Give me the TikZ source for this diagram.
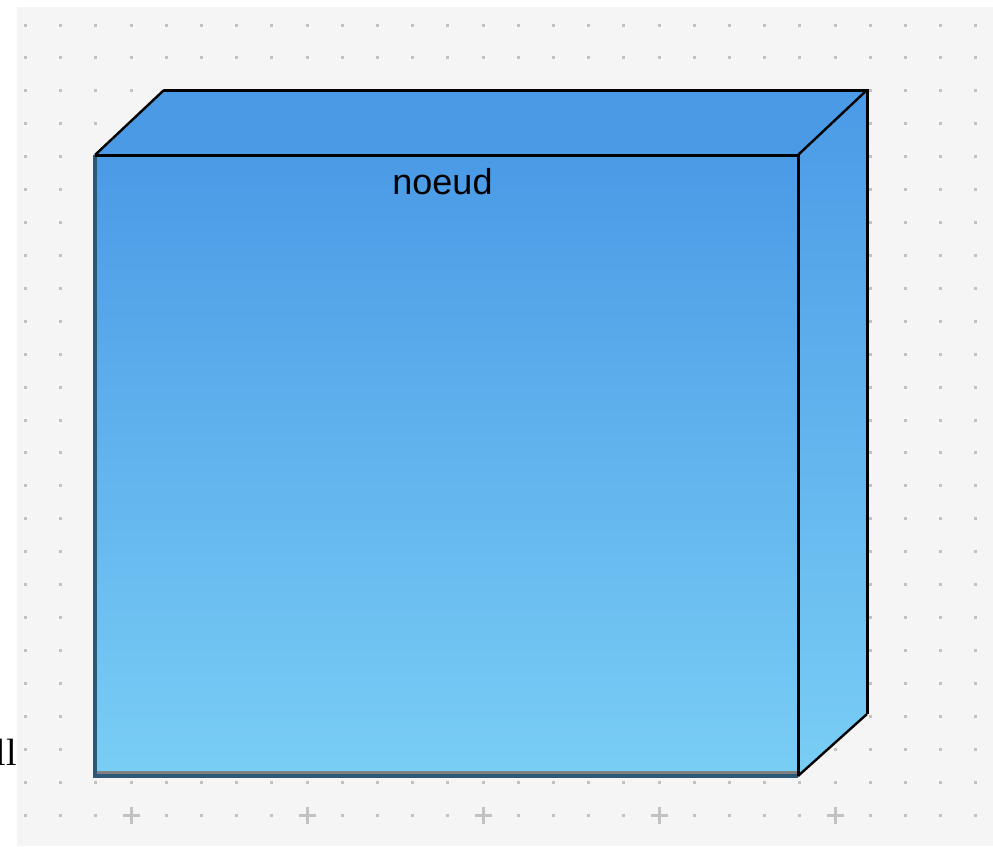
\documentclass[tikz,border=0pt]{standalone}
\usepackage{fontspec}
\setmainfont{Liberation Sans}
\newfontfamily\cutserif{Liberation Serif}
\usetikzlibrary{positioning}
\definecolor{Canvas}{HTML}{F5F5F5}
\definecolor{GridDot}{HTML}{C2C2C2}
\definecolor{FaceTop}{HTML}{4A9AE6}
\definecolor{FaceBottom}{HTML}{79CEF5}
\definecolor{EdgeSlate}{HTML}{2E5878}
\definecolor{Shadow}{HTML}{808080}
\tikzset{
    frontface/.style={rectangle, top color=FaceTop, bottom color=FaceBottom, inner sep=0pt, outer sep=0pt},
    topface/.style={fill=FaceTop},
    sideface/.style={top color=FaceTop, bottom color=FaceBottom},
    outline/.style={draw=black, line width=3pt, line join=miter},
    slantline/.style={draw=black, line width=2.4pt},
    titletext/.style={inner sep=0pt, font=\fontsize{36}{40}\selectfont, text=black},
}

\begin{document}
\begin{tikzpicture}[x=1pt, y=-1pt]
        \useasboundingbox (0,0) rectangle (993,846);
        \fill[Canvas] (17,7) rectangle (993,846);
        % grid
        \foreach \i in {0,...,27} {
            \foreach \j in {0,...,23} {
                \fill[GridDot] ({24+35.2*\i},{23.5+32.92*\j}) rectangle +(3,3);
            }
        }
        \foreach \i in {0,1,2,4,5,6,7,9,10,11,12,14,15,16,17,19,20,21,22,24,25,26,27} {
            \fill[GridDot] ({24+35.2*\i},813.5) rectangle +(3,3);
        }
        \foreach \i in {3,8,13,18,23} {
            \fill[GridDot] ({17+35.2*\i},813.5) rectangle +(17,3);
            \fill[GridDot] ({24+35.2*\i},806.5) rectangle +(3,17);
        }

        % box
        \node[frontface, minimum width=703pt, minimum height=621pt] (front) at (446.5,465.5) {};
        \path (front.north west) ++(69,-65) coordinate (backnw);
        \path (front.north east) ++(69,-65) coordinate (backne);
        \path (front.south east) ++(69,-62) coordinate (backse);
        \fill[topface] (front.north west) -- (backnw) -- (backne) -- (front.north east) -- cycle;
        \shade[sideface] (front.north east) -- (backne) -- (backse) -- (front.south east) -- cycle;

        \draw[Shadow, line width=3.5pt] ([yshift=3pt]front.south west) -- ([yshift=3pt]front.south east);
        \draw[EdgeSlate, line width=3.5pt] (front.north west) -- (front.south west) -- (front.south east);
        \draw[outline] (front.north west) -- (front.north east) -- (front.south east);
        \draw[outline] (backnw) -- (backne) -- (backse);
        \draw[slantline] (front.north west) -- (backnw);
        \draw[slantline] (front.north east) -- (backne);
        \draw[slantline] (front.south east) -- (backse);

        \node[titletext, below=13pt of front.north, xshift=-4pt] (title) {noeud};
        \node[inner sep=0pt, anchor=base east, font=\cutserif\fontsize{38}{40}\selectfont] (cut) at (17,765) {ll};
    \end{tikzpicture}
\end{document}
